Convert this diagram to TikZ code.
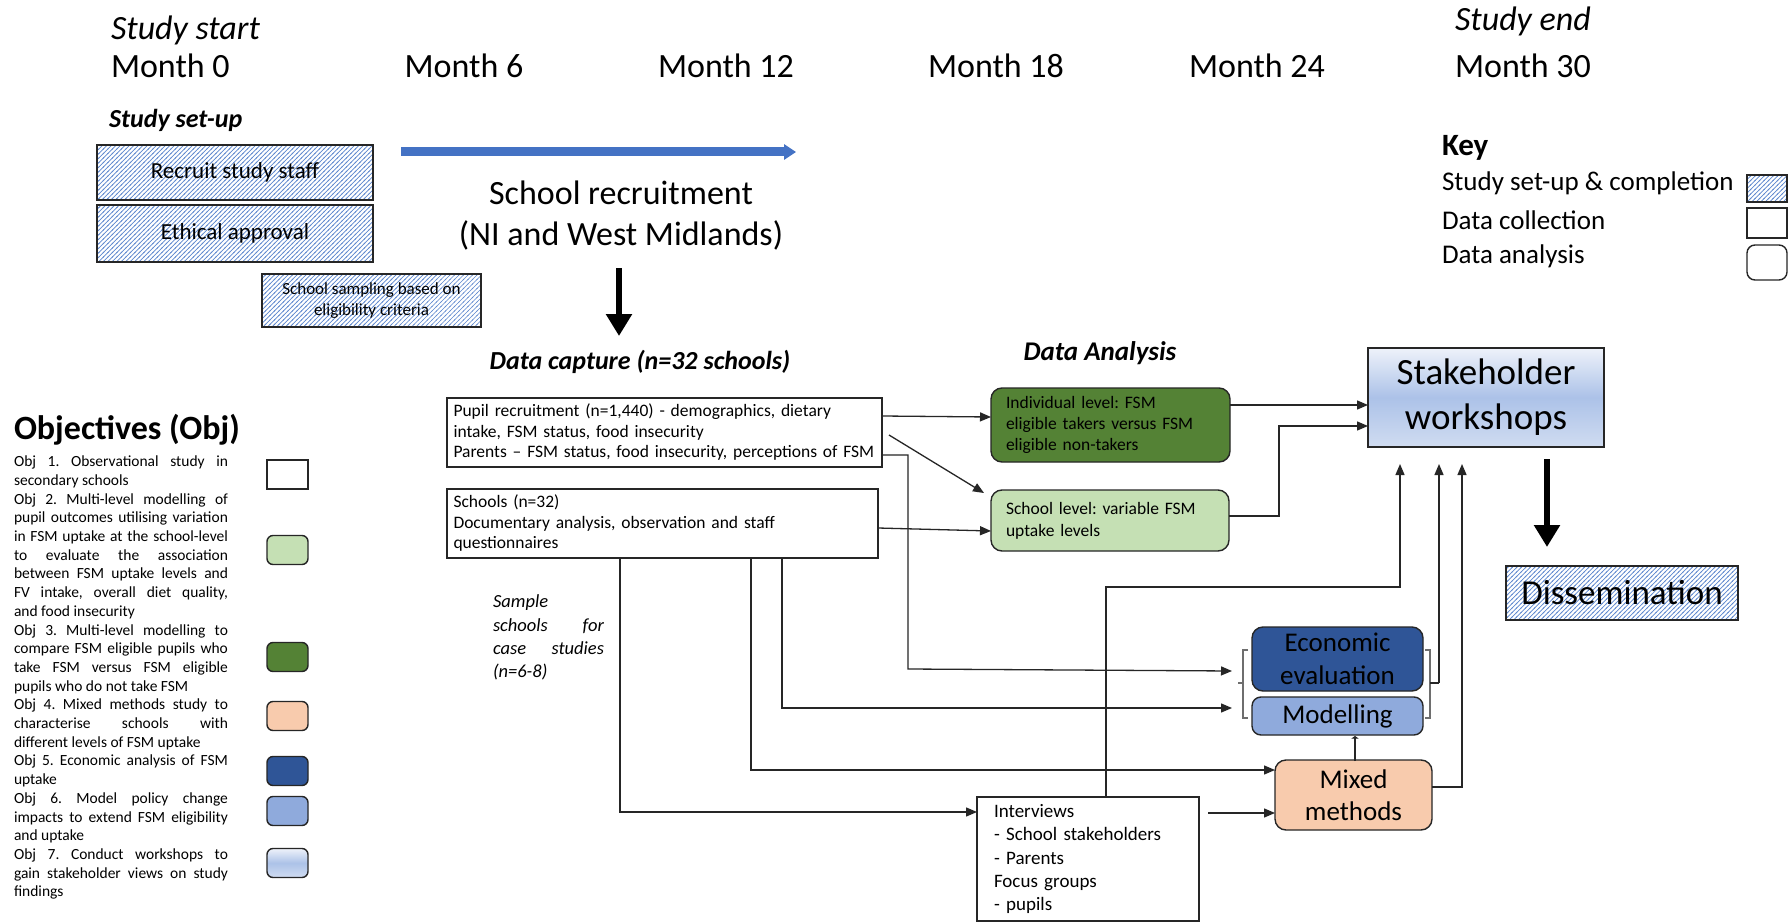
\documentclass[tikz,border=0pt]{standalone}
\usepackage{fontspec}
\setmainfont{Carlito}
\usetikzlibrary{arrows.meta,patterns}
\definecolor{hatchblue}{RGB}{92,134,206}
\definecolor{dkgreen}{RGB}{84,130,53}
\definecolor{ltgreen}{RGB}{197,224,180}
\definecolor{dkblue}{RGB}{47,85,151}
\definecolor{ltblue}{RGB}{143,170,220}
\definecolor{peach}{RGB}{248,203,173}
\definecolor{edge}{RGB}{38,38,38}
\definecolor{arrowblue}{RGB}{68,114,196}
\definecolor{grtop}{RGB}{238,242,250}
\definecolor{grmid}{RGB}{172,194,232}
\definecolor{grbot}{RGB}{208,220,241}
\definecolor{bracecol}{RGB}{110,110,110}
\pgfdeclarepatternformonly{hatchx}{\pgfqpoint{-1pt}{-1pt}}{\pgfqpoint{5.5pt}{5.5pt}}{\pgfqpoint{4.5pt}{4.5pt}}{%
  \pgfsetlinewidth{0.7pt}%
  \pgfpathmoveto{\pgfqpoint{-0.6pt}{-0.6pt}}%
  \pgfpathlineto{\pgfqpoint{5.1pt}{5.1pt}}%
  \pgfusepath{stroke}}
\newcommand{\fsz}[2]{\fontsize{#1}{#2}\selectfont}
\newcommand{\J}[1]{\makebox[214pt][s]{#1}}
\newcommand{\JS}[1]{\makebox[111pt][s]{#1}}
\frenchspacing
\tikzset{
  box/.style={draw=edge, line width=1.4pt, inner sep=0pt},
  hatchbox/.style={box, pattern=hatchx, pattern color=hatchblue},
  rbox/.style={box, rounded corners=11pt},
  swatch/.style={box, minimum width=41pt, minimum height=29pt, rounded corners=6pt},
  arr/.style={draw=edge, line width=1.3pt, -{Triangle[length=11pt,width=9pt]}},
  thickarr/.style={draw=black, line width=5.5pt, -{Triangle[length=22pt,width=25pt]}},
  bluearr/.style={draw=arrowblue, line width=9pt, -{Triangle[length=12pt,width=15pt]}},
  bracestyle/.style={draw=bracecol, line width=1.2pt},
  gradfill/.style={top color=grtop, bottom color=grbot, middle color=grmid},
}
\begin{document}
\begin{tikzpicture}[x=1pt,y=-1pt, every node/.style={inner sep=0pt, outer sep=0pt}]
\fill[white] (0,0) rectangle (1791,923);
\useasboundingbox (0,0) rectangle (1791,923);

% timeline
\node[font=\itshape\fsz{34}{40}, anchor=west] (sstart) at (111,30) {Study start};
\node[font=\itshape\fsz{34}{40}, anchor=west] (send) at (1455,21) {Study end};
\node[font=\fsz{34}{40}, anchor=west] (m0) at (111,66) {Month 0};
\node[font=\fsz{34}{40}] (m6) at (464,66) {Month 6};
\node[font=\fsz{34}{40}] (m12) at (726,66) {Month 12};
\node[font=\fsz{34}{40}] (m18) at (996,66) {Month 18};
\node[font=\fsz{34}{40}] (m24) at (1257,66) {Month 24};
\node[font=\fsz{34}{40}, anchor=west] (m30) at (1455,66) {Month 30};

% set-up
\node[font=\bfseries\itshape\fsz{26}{31}, anchor=west] (setup) at (109,120) {Study set-up};
\node[hatchbox, minimum width=276pt, minimum height=55pt, font=\fsz{23}{28}] (recruit) at (235,172.5) {Recruit study staff};
\node[hatchbox, minimum width=276pt, minimum height=57pt, font=\fsz{23}{28}] (ethic) at (235,233.5) {Ethical approval};
\node[hatchbox, minimum width=219pt, minimum height=53pt, font=\fsz{17}{21}, align=center] (sampling) at (371.5,300.5) {School sampling based on\\eligibility criteria};

\coordinate (ba1) at (401,152);
\coordinate (ba2) at (796,152);
\draw[bluearr] (ba1) -- (ba2);

\node[font=\fsz{34}{41}, align=center] (rec) at (621,216) {School recruitment\\(NI and West Midlands)};
\coordinate (ra1) at (619,268);
\coordinate (ra2) at (619,336);
\draw[thickarr] (ra1) -- (ra2);

% key
\node[font=\bfseries\fsz{31}{36}, anchor=west] (key) at (1442,148) {Key};
\node[font=\fsz{27}{32}, anchor=west] (k1) at (1442,183) {Study set-up \& completion};
\node[font=\fsz{27}{32}, anchor=west] (k2) at (1442,220) {Data collection};
\node[font=\fsz{27}{32}, anchor=west] (k3) at (1442,256) {Data analysis};
\node[hatchbox, minimum width=40pt, minimum height=27pt] (kb1) at (1767,188.5) {};
\node[box, minimum width=40pt, minimum height=30pt] (kb2) at (1767,223) {};
\node[box, rounded corners=8pt, minimum width=40pt, minimum height=35pt] (kb3) at (1767,262.5) {};

% objectives
\node[font=\bfseries\fsz{34}{40}, anchor=west] (objh) at (14,430) {Objectives (Obj)};
\node[font=\fsz{15.5}{18.7}, align=left, anchor=north west] (objt) at (14,456) {%
\J{Obj 1. Observational study in}\\
secondary schools\\
\J{Obj 2. Multi-level modelling of}\\
\J{pupil outcomes utilising variation}\\
\J{in FSM uptake at the school-level}\\
\J{to evaluate the association}\\
\J{between FSM uptake levels and}\\
\J{FV intake, overall diet quality,}\\
and food insecurity\\
\J{Obj 3. Multi-level modelling to}\\
\J{compare FSM eligible pupils who}\\
\J{take FSM versus FSM eligible}\\
pupils who do not take FSM\\
\J{Obj 4. Mixed methods study to}\\
\J{characterise schools with}\\
different levels of FSM uptake\\
\J{Obj 5. Economic analysis of FSM}\\
uptake\\
\J{Obj 6. Model policy change}\\
\J{impacts to extend FSM eligibility}\\
and uptake\\
\J{Obj 7. Conduct workshops to}\\
\J{gain stakeholder views on study}\\
findings};
\node[box, minimum width=41pt, minimum height=29pt] (ob1) at (287.5,474.5) {};
\node[swatch, fill=ltgreen] (ob2) at (287.5,550) {};
\node[swatch, fill=dkgreen] (ob3) at (287.5,657) {};
\node[swatch, fill=peach] (ob4) at (287.5,716) {};
\node[swatch, fill=dkblue] (ob5) at (287.5,771) {};
\node[swatch, fill=ltblue] (ob6) at (287.5,811) {};
\node[swatch, gradfill] (ob7) at (287.5,863) {};

% data capture
\node[font=\bfseries\itshape\fsz{26}{31}] (dch) at (640,362) {Data capture (n=32 schools)};
\node[box, fill=white, text width=422pt, inner xsep=6.5pt, minimum height=69pt, align=left, font=\fsz{17.5}{20.5}] (pupil) at (664.5,432.5) {Pupil recruitment (n=1,440) - demographics, dietary\\intake, FSM status, food insecurity\\Parents -- FSM status, food insecurity, perceptions of FSM};
\node[box, fill=white, text width=418pt, inner xsep=6.5pt, minimum height=69pt, align=left, font=\fsz{17.5}{20.5}] (schools) at (662.5,523.5) {Schools (n=32)\\Documentary analysis, observation and staff\\questionnaires};
\node[font=\itshape\fsz{18.5}{23.3}, align=left, anchor=north west] (sample) at (493,595) {Sample\\\JS{schools for}\\\JS{case studies}\\(n=6-8)};

% data analysis
\node[font=\bfseries\itshape\fsz{27}{32}] (dah) at (1100,353) {Data Analysis};
\node[rbox, fill=dkgreen, text width=209pt, inner xsep=15pt, minimum height=74pt, align=left, font=\fsz{17.5}{21}] (dg) at (1110.5,425) {Individual level: FSM\\eligible takers versus FSM\\eligible non-takers};
\node[rbox, fill=ltgreen, text width=208pt, inner xsep=15pt, minimum height=61pt, align=left, font=\fsz{17.5}{22}] (lg) at (1110,520.5) {School level: variable FSM\\uptake levels};

\node[box, gradfill, minimum width=236pt, minimum height=99pt, align=center, font=\fsz{37}{45}] (sh) at (1486,397.5) {Stakeholder\\workshops};
\node[hatchbox, minimum width=232pt, minimum height=54pt, font=\fsz{35}{40}] (dis) at (1622,593) {Dissemination};

\node[rbox, fill=dkblue, minimum width=171pt, minimum height=64pt, align=center, font=\fsz{27}{33}] (eco) at (1337.5,659) {Economic\\evaluation};
\node[rbox, rounded corners=9pt, fill=ltblue, minimum width=171pt, minimum height=38pt, font=\fsz{27}{33}] (mod) at (1337.5,716) {Modelling};
\node[rbox, fill=peach, minimum width=157pt, minimum height=70pt, align=center, font=\fsz{27}{32}] (mix) at (1353.5,795) {Mixed\\methods};
\node[box, fill=white, text width=188pt, inner xsep=17pt, minimum height=124pt, align=left, font=\fsz{19}{23.3}] (intv) at (1088,859) {Interviews\\- School stakeholders\\- Parents\\Focus groups\\- pupils};

% braces
\draw[bracestyle] (1248,650) -- (1243,650) -- (1243,718) -- (1248,718);
\draw[bracestyle] (1243,683) -- (1238,683);
\draw[bracestyle] (1425,650) -- (1430,650) -- (1430,718) -- (1425,718);
\coordinate (bl1) at (1232,671);
\coordinate (bl2) at (1232,708);
\coordinate (brr) at (1439,683);
\draw[edge, line width=1.3pt] (1430,683) -- (brr);

% connectors
\draw[arr] ([yshift=16.5pt]pupil.east) -- ([yshift=8pt]dg.west);
\draw[arr] ([xshift=7pt,yshift=-2.5pt]pupil.east) -- ([xshift=-7pt,yshift=27.5pt]lg.west);
\draw[arr] ([yshift=-22.5pt]pupil.east) -- (908,455) -- (908,669) -- (bl1);
\draw[arr] ([yshift=-4.5pt]schools.east) -- ([yshift=-10.5pt]lg.west);
\draw[arr] ([xshift=-42.5pt]schools.south) |- ([yshift=47pt]intv.west);
\draw[arr] ([xshift=88.5pt]schools.south) |- ([yshift=25pt]mix.west);
\draw[arr] ([xshift=119.5pt]schools.south) |- (bl2);
\draw[arr] ([yshift=20pt]dg.east) -- ([yshift=-7.5pt]sh.west);
\draw[arr] ([yshift=4.5pt]lg.east) -- (1279,516) |- ([yshift=-28.5pt]sh.west);
\draw[arr] ([xshift=18pt]intv.north) |- (1400,587) -- ([xshift=-86pt,yshift=-17pt]sh.south);
\draw[arr] (brr) -- ([xshift=-47pt,yshift=-17pt]sh.south);
\draw[arr] ([yshift=8pt]mix.east) -| ([xshift=-24pt,yshift=-17pt]sh.south);
\draw[arr] ([xshift=9pt,yshift=46pt]intv.east) -- ([yshift=-18pt]mix.west);
\draw[draw=edge, line width=1.1pt, -{Triangle[length=2.5pt,width=7pt]}] ([xshift=1.5pt,yshift=-1pt]mix.north) -- ([xshift=17.5pt,yshift=-1pt]mod.south);
\draw[thickarr] ([xshift=61pt,yshift=-12pt]sh.south) -- ([xshift=-75pt,yshift=19pt]dis.north);
\end{tikzpicture}
\end{document}
